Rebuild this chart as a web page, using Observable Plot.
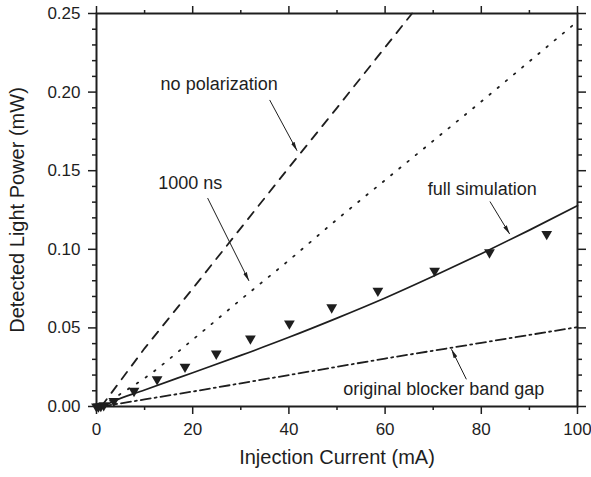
<!DOCTYPE html>
<html><head><meta charset="utf-8">
<script src="https://cdn.jsdelivr.net/npm/d3@7"></script>
<script src="https://cdn.jsdelivr.net/npm/@observablehq/plot@0.6"></script>
<style>body{margin:0;background:#fff;} #chart{width:591px;height:477px;}</style>
</head><body><div id="chart"></div>
<script>
// Measured data (down triangles)
const measI = [0, 0.4, 0.9, 1.5, 3.6, 7.8, 12.6, 18.4, 24.9, 32.0, 40.1, 48.9, 58.5, 70.3, 81.7, 93.6];
const measP = [0, 0, 0.0003, 0.0008, 0.0035, 0.0099, 0.0173, 0.0252, 0.0336, 0.0432, 0.0528, 0.063, 0.0736, 0.0863, 0.098, 0.1097];

// full simulation (solid)
const simI = [1.5, 3, 10, 20, 30, 40, 50, 60, 70, 80, 90, 100];
const simP = [0, 0.0025, 0.0105, 0.0215, 0.0325, 0.044, 0.0562, 0.069, 0.0828, 0.0972, 0.1122, 0.1277];

// no polarization (dashed)
const noPolI = [1, 10, 20, 30, 40, 50, 60, 65.6];
const noPolP = [0, 0.037, 0.075, 0.1135, 0.152, 0.19, 0.2285, 0.25];

// 1000 ns (dotted)
const nsI = [1, 5, 10, 20, 30, 40, 50, 60, 70, 80, 90, 100];
const nsP = [0, 0.008, 0.018, 0.0425, 0.068, 0.093, 0.119, 0.144, 0.169, 0.194, 0.2195, 0.245];

// original blocker band gap (dash-dot)
const bgI = [1, 10, 20, 40, 60, 80, 100];
const bgP = [0, 0.0045, 0.0095, 0.02, 0.0305, 0.0405, 0.0505];

// annotations
const labelText = ["no polarization", "1000 ns", "full simulation", "original blocker band gap"];
const labelI = [25.5, 19.5, 80.2, 72.2];
const labelP = [0.2048, 0.142, 0.1382, 0.0111];
const arrowI1 = [36.0, 23.1, 81.8, 76.9];
const arrowP1 = [0.195, 0.1326, 0.1304, 0.0173];
const arrowI2 = [41.7, 31.7, 85.9, 73.8];
const arrowP2 = [0.1627, 0.0799, 0.1097, 0.0364];

// ticks
const xMajor = [0, 20, 40, 60, 80, 100];
const xMinor = [10, 30, 50, 70, 90];
const yMajor = [0, 0.05, 0.10, 0.15, 0.20, 0.25];
const yMinor = [0.01,0.02,0.03,0.04,0.06,0.07,0.08,0.09,0.11,0.12,0.13,0.14,0.16,0.17,0.18,0.19,0.21,0.22,0.23,0.24];

const xTitle = "Injection Current (mA)";
const yTitle = "Detected Light Power (mW)";

const ink = "#1e1e1e";

function arrowHead(color) {
  const m = d3.create("svg:marker")
    .attr("viewBox", "-9 -2.2 9 4.4")
    .attr("markerWidth", 9)
    .attr("markerHeight", 4.4)
    .attr("refX", 0)
    .attr("refY", 0)
    .attr("orient", "auto")
    .attr("markerUnits", "userSpaceOnUse")
    .attr("fill", color)
    .attr("stroke", "none");
  m.append("path").attr("d", "M-9,-2L0,0L-9,2Z");
  return m.node();
}

const idx = labelText.map((_, i) => i);

const chart = Plot.plot({
  width: 591,
  height: 477,
  marginLeft: 96,
  marginRight: 14,
  marginTop: 13,
  marginBottom: 71,
  style: {fontFamily: "'Liberation Sans', Arial, Helvetica, sans-serif", fontSize: "17px", color: ink, background: "#fff"},
  x: {domain: [0, 100], axis: null},
  y: {domain: [0, 0.25], axis: null},
  marks: [
    Plot.axisX({anchor: "bottom", ticks: xMajor, tickSize: 8, tickPadding: 8, strokeWidth: 1.5, fontSize: 17, label: null, tickFormat: d3.format("d")}),
    Plot.axisX({anchor: "bottom", ticks: xMinor, tickSize: 4, strokeWidth: 1.5, fill: "none", label: null}),
    Plot.axisX({anchor: "top", ticks: xMajor, tickSize: 8, strokeWidth: 1.5, fill: "none", label: null}),
    Plot.axisX({anchor: "top", ticks: xMinor, tickSize: 4, strokeWidth: 1.5, fill: "none", label: null}),
    Plot.axisY({anchor: "left", ticks: yMajor, tickSize: 8, tickPadding: 8, strokeWidth: 1.5, fontSize: 17, label: null, tickFormat: d3.format(".2f")}),
    Plot.axisY({anchor: "left", ticks: yMinor, tickSize: 4, strokeWidth: 1.5, fill: "none", label: null}),
    Plot.axisY({anchor: "right", ticks: yMajor, tickSize: 8, strokeWidth: 1.5, fill: "none", label: null}),
    Plot.axisY({anchor: "right", ticks: yMinor, tickSize: 4, strokeWidth: 1.5, fill: "none", label: null}),
    Plot.line(noPolI, {x: noPolI, y: noPolP, stroke: ink, strokeWidth: 1.8, strokeDasharray: "9,8"}),
    Plot.line(nsI, {x: nsI, y: nsP, stroke: ink, strokeWidth: 1.8, strokeDasharray: "1.6,9", curve: "monotone-x"}),
    Plot.line(simI, {x: simI, y: simP, stroke: ink, strokeWidth: 1.7, curve: "monotone-x"}),
    Plot.line(bgI, {x: bgI, y: bgP, stroke: ink, strokeWidth: 1.8, strokeDasharray: "10,4,2,4"}),
    Plot.dot(measI, {x: measI, y: measP, symbol: "triangle", rotate: 180, r: 4, fill: ink, stroke: "none"}),
    Plot.link(idx, {x1: arrowI1, y1: arrowP1, x2: arrowI2, y2: arrowP2, stroke: ink, strokeWidth: 1, markerEnd: arrowHead}),
    Plot.text(idx, {x: labelI, y: labelP, text: labelText, fontSize: 18, fill: ink}),
    Plot.frame({stroke: ink, strokeWidth: 2}),
    Plot.text([xTitle], {text: d => d, frameAnchor: "bottom", dy: 57, fontSize: 20, fill: ink}),
    Plot.text([yTitle], {text: d => d, frameAnchor: "left", textAnchor: "middle", rotate: -90, dx: -79, fontSize: 20, fill: ink})
  ]
});
document.getElementById("chart").appendChild(chart);
</script>
</body></html>
